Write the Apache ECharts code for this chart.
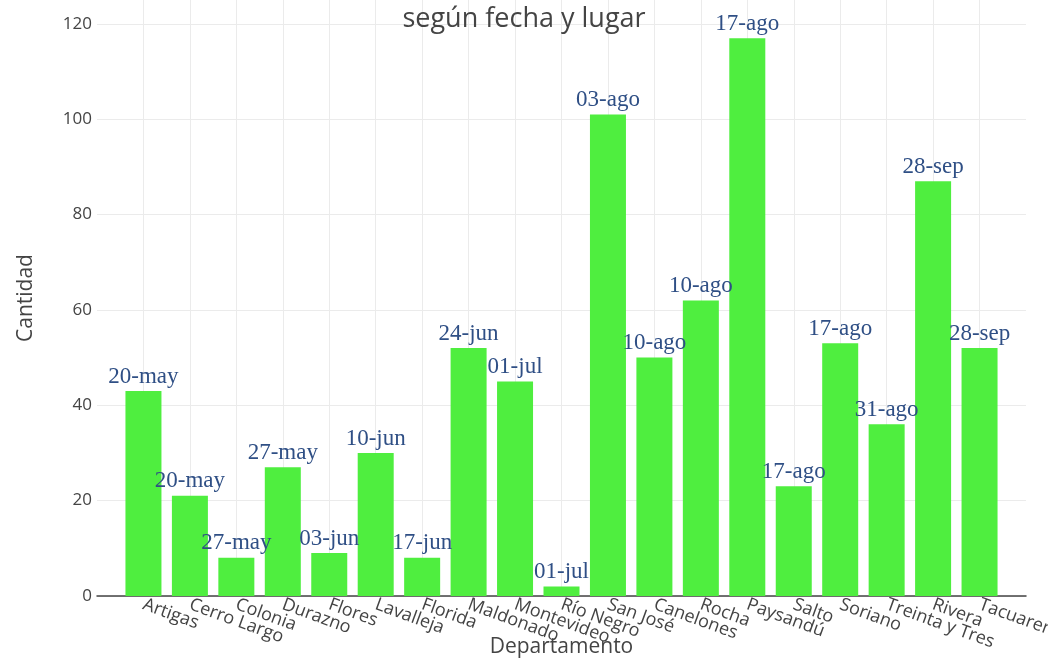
<!DOCTYPE html>
<html>
<head>
<meta charset="utf-8">
<script src="https://cdn.jsdelivr.net/npm/echarts@6/dist/echarts.min.js"></script>
<style>
html,body{margin:0;padding:0;background:#fff;}
#chart{width:1048px;height:662px;}
</style>
</head>
<body>
<div id="chart"></div>
<script>
const departamentos = ['Artigas','Cerro Largo','Colonia','Durazno','Flores','Lavalleja','Florida','Maldonado','Montevideo','Río Negro','San José','Canelones','Rocha','Paysandú','Salto','Soriano','Treinta y Tres','Rivera','Tacuarembó'];
const cantidades = [43, 21, 8, 27, 9, 30, 8, 52, 45, 2, 101, 50, 62, 117, 23, 53, 36, 87, 52];
const fechas = ['20-may','20-may','27-may','27-may','03-jun','10-jun','17-jun','24-jun','01-jul','01-jul','03-ago','10-ago','10-ago','17-ago','17-ago','17-ago','31-ago','28-sep','28-sep'];
const yTicks = [0, 20, 40, 60, 80, 100, 120];

const chart = echarts.init(document.getElementById('chart'));
chart.setOption({
  backgroundColor: '#fff',
  animation: false,
  title: {
    text: 'según fecha y lugar',
    left: 'center',
    top: 1,
    textStyle: { fontFamily: 'Open Sans', fontSize: 27, fontWeight: 'normal', color: '#444' }
  },
  grid: { left: 97, right: 22, top: 0, bottom: 66, containLabel: false, outerBoundsMode: 'none' },
  xAxis: {
    type: 'value',
    min: -1,
    max: departamentos.length,
    interval: 1,
    name: 'Departamento',
    nameLocation: 'middle',
    nameGap: 41,
    nameMoveOverlap: false,
    nameTextStyle: { fontFamily: 'Open Sans', fontSize: 21, color: '#444' },
    axisLine: { show: true, onZero: false, lineStyle: { color: '#444', width: 1.5 } },
    axisTick: { show: false },
    axisLabel: {
      rotate: -20,
      margin: 8,
      fontFamily: 'Open Sans',
      fontSize: 18,
      color: '#444',
      showMinLabel: true,
      showMaxLabel: true,
      hideOverlap: false,
      formatter: function (v) {
        const i = Math.round(v);
        return (i >= 0 && i < departamentos.length) ? departamentos[i] : '';
      }
    },
    splitLine: { show: true, showMinLine: false, showMaxLine: false, lineStyle: { color: '#ebebeb', width: 1 } }
  },
  yAxis: {
    type: 'value',
    min: 0,
    max: 125,
    interval: 20,
    name: 'Cantidad',
    nameLocation: 'middle',
    nameGap: 60,
    nameTextStyle: { fontFamily: 'Open Sans', fontSize: 21, color: '#444' },
    axisLine: { show: false },
    axisTick: { show: false },
    axisLabel: {
      margin: 5,
      fontFamily: 'Open Sans',
      fontSize: 17,
      color: '#444',
      formatter: function (v) { return yTicks.indexOf(v) >= 0 ? String(v) : ''; }
    },
    splitLine: { show: true, showMaxLine: false, lineStyle: { color: '#ebebeb', width: 1 } }
  },
  series: [{
    type: 'bar',
    barWidth: 36,
    itemStyle: { color: '#4fee3f' },
    data: cantidades.map((v, i) => [i, v]),
    label: {
      show: true,
      position: 'top',
      distance: 3,
      fontFamily: 'Liberation Serif',
      fontSize: 23,
      color: '#2f4f85',
      formatter: function (p) { return fechas[p.dataIndex]; }
    }
  }]
});
</script>
</body>
</html>
